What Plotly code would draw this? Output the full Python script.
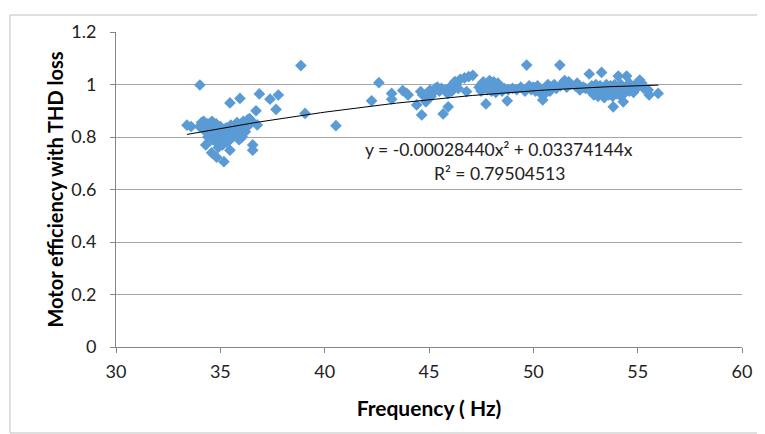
import plotly.graph_objects as go
import numpy as np

# ---- data ----
freq_low = [33.4, 33.6, 34.0, 34.1, 34.2, 34.2, 34.3, 34.4, 34.4, 34.5, 34.5, 34.6, 34.6, 34.7, 34.7,
            34.8, 34.8, 34.9, 34.9, 35.0, 35.0, 35.1, 35.1, 35.2, 35.2, 35.3, 35.3, 35.4, 35.4, 35.5,
            35.5, 35.6, 35.6, 35.7, 35.7, 35.8, 35.8, 35.9, 35.9, 36.0, 36.0, 36.1, 36.1, 36.2, 36.2,
            36.3, 36.3, 36.4, 36.5,
            34.02, 34.3, 34.58, 34.82, 35.17, 35.46, 35.46, 35.94, 36.55, 36.55, 36.87, 37.38, 37.78,
            37.67, 36.71, 36.77, 35.0, 34.9, 35.3, 36.05, 35.9]
eff_low = [0.845, 0.84, 0.84, 0.855, 0.83, 0.86, 0.82, 0.85, 0.80, 0.84, 0.81, 0.86, 0.79, 0.83, 0.80,
           0.85, 0.78, 0.82, 0.79, 0.84, 0.80, 0.81, 0.77, 0.83, 0.79, 0.80, 0.835, 0.82, 0.785, 0.845,
           0.81, 0.83, 0.80, 0.84, 0.82, 0.855, 0.81, 0.83, 0.80, 0.845, 0.815, 0.86, 0.83, 0.85, 0.82,
           0.865, 0.84, 0.87, 0.86,
           0.998, 0.77, 0.74, 0.723, 0.706, 0.75, 0.93, 0.947, 0.77, 0.75, 0.964, 0.944, 0.96,
           0.905, 0.90, 0.846, 0.77, 0.76, 0.78, 0.80, 0.79]

freq_mid = [38.86, 39.06, 40.54, 42.25, 42.6, 43.21, 43.21, 43.74, 43.93, 44.0, 44.41, 44.6, 44.65,
            44.85, 45.05, 45.2, 45.3, 45.4, 45.5, 45.6, 45.68, 45.8, 45.92, 46.0, 46.1, 46.24, 46.4,
            46.5, 46.7, 46.8, 46.9, 47.1, 44.9, 45.1, 44.7, 45.9, 46.3]
eff_mid = [1.072, 0.89, 0.843, 0.938, 1.007, 0.966, 0.944, 0.977, 0.966, 0.96, 0.922, 0.973, 0.884,
           0.934, 0.979, 0.97, 0.985, 0.99, 0.975, 0.985, 0.888, 0.98, 0.915, 0.99, 0.975, 1.011, 0.985,
           1.02, 1.025, 0.973, 1.03, 1.035, 0.95, 0.955, 0.96, 0.965, 1.0]

freq_high = [47.4, 47.5, 47.5, 47.6, 47.6, 47.7, 47.73, 47.8, 47.8, 47.9, 47.9, 48.0, 48.0, 48.1, 48.1,
             48.2, 48.2, 48.3, 48.3, 48.4, 48.5, 48.6, 48.75, 48.8, 49.0, 49.2, 49.4, 49.6, 49.68, 49.8,
             49.9, 50.0, 50.1, 50.2, 50.3, 50.45, 50.5, 50.6, 50.7, 50.8, 50.9, 51.0, 51.1, 51.27, 51.3,
             51.4, 51.5, 51.6, 51.7, 51.8, 52.0, 52.1, 52.23, 52.4, 52.5, 52.68, 52.7,
             52.8, 52.8, 52.9, 52.9, 53.0, 53.0, 53.1, 53.1, 53.2, 53.2, 53.27, 53.3, 53.3, 53.4, 53.4,
             53.5, 53.5, 53.6, 53.6, 53.7, 53.7, 53.8, 53.83, 53.9, 53.9, 54.0, 54.0, 54.07, 54.1, 54.2,
             54.2, 54.31, 54.3, 54.4, 54.47, 54.5, 54.6, 54.6, 54.7, 54.8, 54.9, 55.0, 55.1, 55.2, 55.3,
             55.51, 55.55, 55.98]
eff_high = [0.99, 1.0, 0.975, 1.01, 0.985, 0.995, 0.926, 1.005, 0.98, 1.015, 0.99, 1.0, 0.975, 1.01, 0.985,
            0.995, 0.97, 1.005, 0.98, 0.99, 0.975, 0.985, 0.938, 0.98, 0.985, 0.98, 0.99, 0.975, 1.074, 0.995,
            0.98, 0.99, 0.975, 0.995, 0.97, 0.941, 0.96, 0.985, 1.0, 0.975, 0.99, 1.0, 0.985, 1.074, 0.995,
            1.005, 1.015, 0.99, 1.01, 1.0, 0.995, 1.005, 0.979, 0.99, 0.985, 1.04, 0.985,
            0.97, 0.995, 0.96, 0.985, 0.975, 1.0, 0.955, 0.985, 0.97, 0.995, 1.046, 0.96, 0.98, 0.99, 0.95,
            0.975, 1.0, 0.96, 0.985, 0.97, 0.995, 0.955, 0.915, 0.98, 1.0, 0.965, 0.99, 1.032, 0.975, 0.955,
            1.0, 0.934, 0.985, 0.97, 1.032, 0.99, 0.975, 1.005, 0.985, 0.97, 1.0, 0.99, 1.017, 1.005, 0.985,
            0.979, 0.96, 0.966]

# trendline coefficients shown on the chart (y = a*x^2 + b*x)
coef_a = -0.00028440
coef_b = 0.03374144
trend_range = [33.4, 56.0]
eq_text = "y = -0.00028440x² + 0.03374144x"
r2_text = "R² = 0.79504513"

x_ticks = [30, 35, 40, 45, 50, 55, 60]
y_ticks = [0, 0.2, 0.4, 0.6, 0.8, 1.0, 1.2]
y_tick_labels = ["0", "0.2", "0.4", "0.6", "0.8", "1", "1.2"]

freq = freq_low + freq_mid + freq_high
eff = eff_low + eff_mid + eff_high

tx = np.linspace(trend_range[0], trend_range[1], 100)
ty = coef_a * tx ** 2 + coef_b * tx

FONT = "Lato, Open Sans, sans-serif"

# page has an 8px body margin; figure is sized/offset so the plot area lands
# at x 116..742, y 32..347 of the window
W, H = 757, 426
L, T = 108, 24
PW, PH = 626, 315
R = W - L - PW
B = H - T - PH

def px(xp):
    return (xp - 8 - L) / PW

def py(yp):
    return (T + PH - (yp - 8)) / PH

fig = go.Figure()
fig.add_trace(go.Scatter(x=freq, y=eff, mode="markers",
                         marker=dict(symbol="diamond", size=9, color="#5B9BD5", line=dict(width=0)),
                         showlegend=False))
fig.add_trace(go.Scatter(x=tx, y=ty, mode="lines", line=dict(color="black", width=1),
                         showlegend=False))

tick_font = dict(family=FONT, size=18, color="#222")

fig.update_layout(
    width=W, height=H,
    margin=dict(l=L, r=R, t=T, b=B),
    plot_bgcolor="white", paper_bgcolor="white",
    xaxis=dict(range=[30, 60], tickvals=x_ticks, showgrid=False, zeroline=False,
               showline=True, linecolor="#868686", linewidth=1,
               ticks="outside", ticklen=5, tickcolor="#868686",
               tickfont=tick_font, ticklabelstandoff=3,
               title=dict(text="<b>Frequency ( Hz)</b>",
                          font=dict(family=FONT, size=21, color="black"), standoff=20)),
    yaxis=dict(range=[0, 1.2], tickvals=y_ticks, ticktext=y_tick_labels,
               showgrid=True, gridcolor="#a6a6a6", gridwidth=1, zeroline=False,
               showline=True, linecolor="#868686", linewidth=1,
               ticks="outside", ticklen=5, tickcolor="#868686",
               tickfont=tick_font, ticklabelstandoff=10,
               title=dict(text="<b>Motor efficiency with THD loss</b>",
                          font=dict(family=FONT, size=20, color="black"), standoff=2)),
    shapes=[dict(type="rect", xref="paper", yref="paper",
                 x0=px(10), x1=px(764),
                 y0=py(433), y1=py(15),
                 line=dict(color="#bfbfbf", width=1), fillcolor="rgba(0,0,0,0)", layer="below")],
)
fig.add_annotation(x=px(499), y=py(149), xref="paper", yref="paper",
                   text=eq_text, showarrow=False,
                   font=dict(family=FONT, size=17.5, color="#222"))
fig.add_annotation(x=px(499), y=py(173), xref="paper", yref="paper",
                   text=r2_text, showarrow=False,
                   font=dict(family=FONT, size=17.5, color="#222"))

fig.write_html("out.html")
